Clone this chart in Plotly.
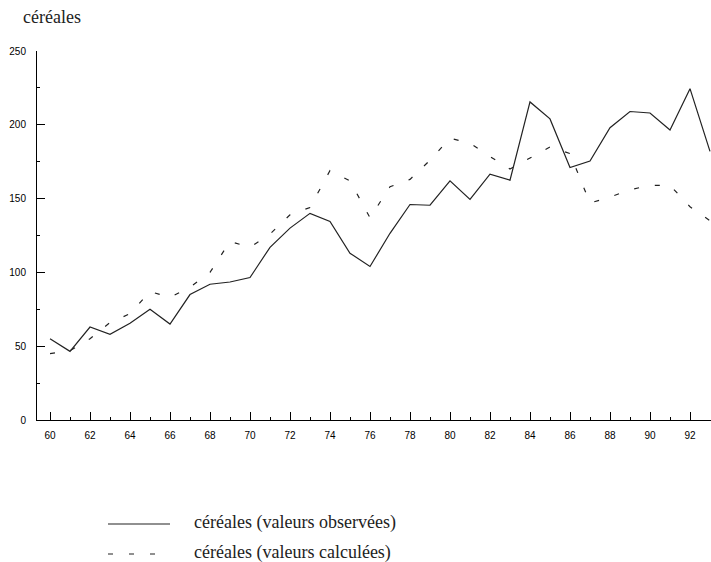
import plotly.graph_objects as go

years = list(range(60, 94))
observed = [55, 46.5, 63, 58, 65.5, 75, 65, 85, 92, 93.5, 96.5, 117, 130, 140, 134.5,
            113, 104, 126.5, 146, 145.5, 162, 149.5, 166.5, 162.5, 215.5, 204, 171,
            175.5, 198, 209, 208, 196.5, 224.5, 182]
calculated = [45, 47, 55, 66, 72, 87, 83, 90, 100, 121, 117, 126, 139, 144, 169,
              162, 137, 158, 163, 176, 191, 187.5, 178.5, 170, 177.5, 185, 180.5,
              147, 151, 156, 159, 159, 144.5, 135]
x_tickvals = list(range(60, 93, 2))
x_ticktext = [str(v) for v in x_tickvals]
y_tickvals = [0, 50, 100, 150, 200, 250]
y_ticktext = [str(v) for v in y_tickvals]

series_names = ["céréales (valeurs observées)", "céréales (valeurs calculées)"]
title_text = "céréales"

W, H = 711, 562
ML, MR, MT, MB = 37, 0, 51, 142
PW = W - ML - MR
PH = H - MT - MB

def px_x(p):
    return (p - ML) / PW

def px_y(p):
    return (H - MB - p) / PH

ink = "#222222"
serif = "Liberation Serif, Times New Roman, serif"
sans = "Liberation Sans, Arial, sans-serif"
dash = "5px,16px"

fig = go.Figure()
fig.add_trace(go.Scatter(x=years, y=observed, mode="lines", name=series_names[0],
                         line=dict(color=ink, width=1.2), showlegend=False))
fig.add_trace(go.Scatter(x=years, y=calculated, mode="lines", name=series_names[1],
                         line=dict(color=ink, width=1.2, dash=dash), showlegend=False))

fig.update_layout(
    width=W, height=H, autosize=False,
    margin=dict(l=ML, r=MR, t=MT, b=MB, pad=0),
    paper_bgcolor="white", plot_bgcolor="white",
    showlegend=False,
    xaxis=dict(range=[59.35, 93.05], showgrid=False, zeroline=False,
               showline=True, linecolor="black", linewidth=1,
               ticks="inside", ticklen=8, tickwidth=1, tickcolor="black",
               tickvals=x_tickvals, ticktext=x_ticktext,
               tickfont=dict(family=sans, size=10, color="black"),
               ticklabelstandoff=6,
               minor=dict(dtick=1, tick0=60, ticks="inside", ticklen=3,
                          tickwidth=1, tickcolor="black", showgrid=False)),
    yaxis=dict(range=[0, 250], showgrid=False, zeroline=False,
               showline=True, linecolor="black", linewidth=1,
               ticks="inside", ticklen=8, tickwidth=1, tickcolor="black",
               tickvals=y_tickvals, ticktext=y_ticktext,
               tickfont=dict(family=sans, size=10, color="black"),
               ticklabelstandoff=8,
               minor=dict(dtick=25, tick0=0, ticks="inside", ticklen=3,
                          tickwidth=1, tickcolor="black", showgrid=False)),
)

# title
fig.add_annotation(text=title_text, xref="paper", yref="paper",
                   x=px_x(21), y=px_y(17), xanchor="left", yanchor="middle",
                   showarrow=False, font=dict(family=serif, size=18, color=ink))

# custom legend
legend_rows = [(524, None), (554, dash)]
for (ypx, dsh), name in zip(legend_rows, series_names):
    fig.add_shape(type="line", xref="paper", yref="paper",
                  x0=px_x(108), x1=px_x(170 if dsh is None else 156),
                  y0=px_y(ypx), y1=px_y(ypx),
                  line=dict(color=ink, width=1.2, dash=dsh if dsh else "solid"))
    fig.add_annotation(text=name, xref="paper", yref="paper",
                       x=px_x(192), y=px_y(ypx - 2), xanchor="left", yanchor="middle",
                       showarrow=False, font=dict(family=serif, size=18, color=ink))

fig.write_html("out.html",
               config={"displayModeBar": False},
               post_script="document.body.style.margin='0';document.body.style.overflow='hidden';")
